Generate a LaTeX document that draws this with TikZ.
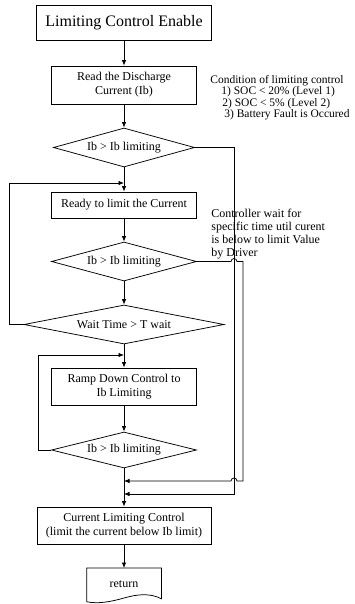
\documentclass[tikz,border=0pt]{standalone}
\usepackage{fontspec}
\setmainfont{Liberation Serif}
\usetikzlibrary{shapes.geometric,arrows.meta}
\begin{document}
\begin{tikzpicture}[x=1pt,y=-1pt,
  line width=0.75pt,
  box/.style={draw, rectangle, align=center, inner sep=0pt, font=\fontsize{12}{14}\selectfont},
  dia/.style={draw, diamond, aspect=4, inner sep=0pt, font=\fontsize{12}{14}\selectfont},
  arr/.style={-{Latex[length=5.5pt,width=4.5pt]}},
  note/.style={align=left, anchor=north west, inner sep=0pt}
]
\useasboundingbox (0,0) rectangle (355,604);

\node[box, minimum width=175pt, minimum height=35pt, font=\fontsize{16}{18}\selectfont] (start) at (124,22.5) {Limiting Control Enable};
\node[box, minimum width=145pt, minimum height=38pt] (read) at (124,85) {Read the Discharge\\Current (Ib)};
\node[dia, minimum width=141pt, minimum height=39pt] (d1) at (124,147.5) {Ib > Ib limiting};
\node[box, minimum width=145pt, minimum height=26pt] (ready) at (124,205) {Ready to limit the Current};
\node[dia, minimum width=145pt, minimum height=39pt] (d2) at (124,261.5) {Ib > Ib limiting};
\node[dia, minimum width=200pt, minimum height=39pt] (d3) at (124,324.5) {Wait Time > T wait};
\node[box, minimum width=145pt, minimum height=37pt] (ramp) at (124,386.5) {Ramp Down Control to\\Ib Limiting};
\node[dia, minimum width=145pt, minimum height=36pt] (d4) at (124,450) {Ib > Ib limiting};
\node[box, minimum width=174pt, minimum height=37pt] (clc) at (124,525.5) {Current Limiting Control\\(limit the current below Ib limit)};
\node[minimum width=74pt, minimum height=32pt, inner sep=0pt, anchor=north, font=\fontsize{12}{14}\selectfont] (ret) at (124,568) {return};
\draw (ret.north west) -- (ret.north east) -- ([yshift=2pt]ret.south east)
  .. controls (150,593) and (138,594) .. (124,598)
  .. controls (110,602) and (98,604) .. ([yshift=-1pt]ret.south west) -- cycle;

% notes
\node[note, font=\fontsize{11.5}{11.5}\selectfont] (cond) at (210,75) {Condition of limiting control\\
\hspace*{11pt}1) SOC < 20\% (Level 1)\\
\hspace*{12pt}2) SOC < 5\% (Level 2)\\
\hspace*{14pt}3) Battery Fault is Occured};
\node[note, font=\fontsize{12}{13}\selectfont] (ctrl) at (211,209) {Controller wait for\\specific time util curent\\is below to limit Value\\by Driver};

% junctions
\coordinate (j1) at (124,183);
\coordinate (j2) at (124,355);
\coordinate (j3) at (124,481);
\coordinate (j4) at (124,494);
\coordinate (c1) at (234,147.5);

% main flow
\draw[arr] (start.south) -- (read.north);
\draw[arr] (read.south) -- (d1.north);
\draw[arr] (d1.south) -- (ready.north);
\draw[arr] (ready.south) -- (d2.north);
\draw[arr] (d2.south) -- (d3.north);
\draw[arr] (d3.south) -- (ramp.north);
\draw[arr] (ramp.south) -- (d4.north);
\draw[arr] (d4.south) -- (clc.north);
\draw[arr] (clc.south) -- (ret.north);

% loops
\draw[arr] (d3.west) -- ++(-14,0) |- (j1);
\draw[arr] (d4.west) -- ++(-13,0) |- (j2);
\draw[arr] (d1.east) -- (c1) |- (j4);
\draw[arr] (d2.east) -- (231,261.5) arc[start angle=180,end angle=0,radius=3pt] -- (243,261.5)
  -- (243,481) -- (237,481) arc[start angle=0,end angle=180,radius=3pt] -- (j3);
\end{tikzpicture}
\end{document}
